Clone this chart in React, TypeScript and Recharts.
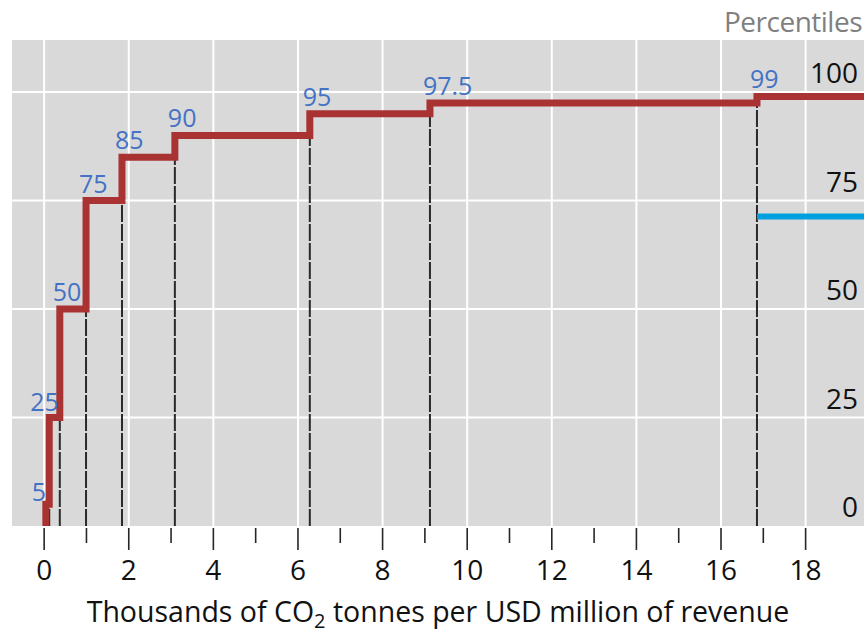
import React from 'react'
import {
  LineChart,
  Line,
  XAxis,
  YAxis,
  CartesianGrid,
  ReferenceLine,
  LabelList
} from 'recharts'

// where the cumulative curve jumps (thousand t CO2 / USD mn revenue) and the percentile reached
const jumpX = [0.04, 0.12, 0.37, 0.99, 1.84, 3.09, 6.28, 9.12, 16.85]
const percentiles = [5, 25, 50, 75, 85, 90, 95, 97.5, 99]
const xTicks = [0, 1, 2, 3, 4, 5, 6, 7, 8, 9, 10, 11, 12, 13, 14, 15, 16, 17, 18]
const yTicks = [0, 25, 50, 75, 100]
const benchmarkLevel = 71.3
const benchmarkFrom = 16.85
const xDomain = [-0.76, 19.38]

const FONT = '"Open Sans", "Noto Sans", sans-serif'
const RED = '#a93232'
const BLUE_TXT = '#4472c4'

const curve = [
  { x: jumpX[0], y: 0 },
  ...jumpX.map((x, i) => ({ x, y: percentiles[i], label: percentiles[i] })),
  { x: xDomain[1], y: percentiles[percentiles.length - 1] }
]

// little nudges where the labels would sit on the line
const nudge: Record<string, [number, number]> = { '5': [-7, 5], '25': [-12, 1] }

const XTick = ({ x, y, payload }: any) => {
  const major = payload.value % 2 === 0
  return (
    <g>
      <line x1={x} x2={x} y1={y + 2} y2={y + (major ? 24 : 17)} stroke="#262626" strokeWidth={1.6} />
      {major && (
        <text x={x} y={y + 54} textAnchor="middle" fontSize={28} fill="#111" fontFamily={FONT}>
          {payload.value}
        </text>
      )}
    </g>
  )
}

const YTick = ({ x, y, payload }: any) => (
  <text x={x - 6} y={y - 9} textAnchor="end" fontSize={28} fill="#111" fontFamily={FONT}>
    {payload.value}
  </text>
)

const PctLabel = (props: any) => {
  const { x, y, value } = props
  if (value == null) return null
  const [dx, dy] = nudge[String(value)] || [0, 0]
  return (
    <text x={x - 7 + dx} y={y - 8 + dy} fontSize={25} fill={BLUE_TXT} fontFamily={FONT}>
      {value}
    </text>
  )
}

export default function App() {
  return (
    <div style={{ position: 'absolute', left: 0, top: 0, width: 864, height: 633, overflow: 'hidden', background: '#fff' }}>
      <LineChart
        width={864}
        height={633}
        data={curve}
        margin={{ top: 40, right: 0, left: 12, bottom: 7 }}
        style={{ fontFamily: FONT }}
      >
        <CartesianGrid
          fill="#d9d9d9"
          stroke="#ffffff"
          strokeWidth={2}
          verticalValues={xTicks.filter(t => t % 2 === 0)}
          horizontalValues={yTicks.filter(t => t > 0)}
        />
        <XAxis
          dataKey="x"
          type="number"
          domain={xDomain}
          allowDataOverflow
          ticks={xTicks}
          interval={0}
          tick={<XTick />}
          tickSize={0}
          tickMargin={0}
          tickLine={false}
          axisLine={false}
          height={100}
          label={({ viewBox }: any) => (
            <text
              x={viewBox.x + viewBox.width / 2}
              y={viewBox.y + 96}
              textAnchor="middle"
              fontSize={28.5}
              fill="#111"
              fontFamily={FONT}
            >
              Thousands of CO
              <tspan dy={6} fontSize={20}>2</tspan>
              <tspan dy={-6}> tonnes per USD million of revenue</tspan>
            </text>
          )}
        />
        <YAxis
          orientation="right"
          mirror
          type="number"
          domain={[0, 112]}
          ticks={yTicks}
          width={60}
          tick={<YTick />}
          tickSize={0}
          tickMargin={0}
          tickLine={false}
          axisLine={false}
          label={({ viewBox }: any) => (
            <text
              x={viewBox.x + viewBox.width - 2}
              y={viewBox.y - 8}
              textAnchor="end"
              fontSize={28}
              letterSpacing={-0.5}
              fill="#7f7f7f"
              fontFamily={FONT}
            >
              Percentiles
            </text>
          )}
        />
        {jumpX.map((x, i) =>
          i > 0 ? (
            <ReferenceLine
              key={`d-${i}`}
              segment={[{ x, y: 0 }, { x, y: percentiles[i - 1] }]}
              stroke="#2a2a2a"
              strokeWidth={2}
              strokeDasharray="17 2"
            />
          ) : null
        )}
        <ReferenceLine
          segment={[{ x: benchmarkFrom, y: benchmarkLevel }, { x: xDomain[1], y: benchmarkLevel }]}
          stroke="#009fdf"
          strokeWidth={6}
        />
        <Line
          type="stepAfter"
          dataKey="y"
          stroke={RED}
          strokeWidth={7}
          strokeLinejoin="miter"
          dot={false}
          activeDot={false}
          isAnimationActive={false}
        >
          <LabelList dataKey="label" content={<PctLabel />} />
        </Line>
      </LineChart>
    </div>
  )
}
